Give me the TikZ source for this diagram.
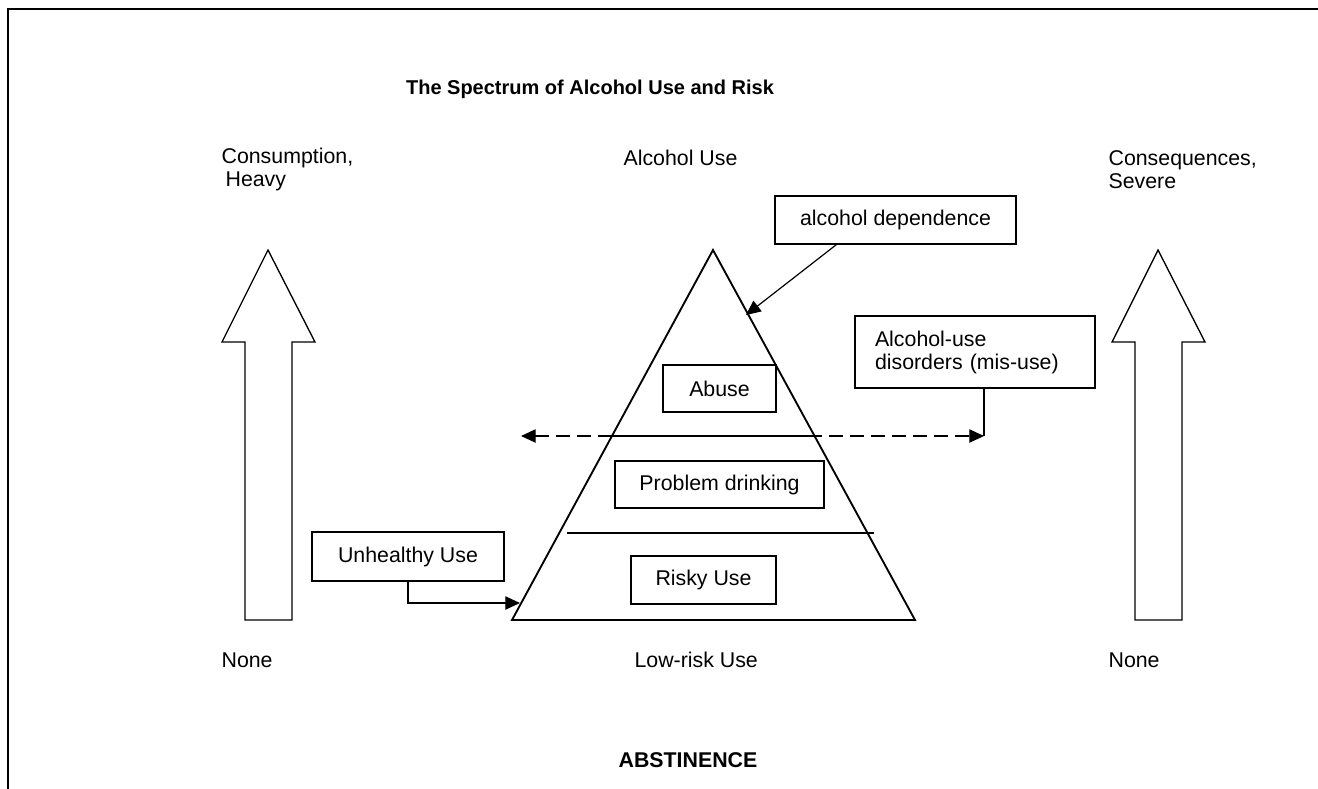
\documentclass[tikz,border=0pt]{standalone}
\usepackage{fontspec}
\setmainfont{Liberation Sans}
\usetikzlibrary{arrows.meta,calc}

\begin{document}
\begin{tikzpicture}[x=0.75pt,y=-0.75pt,>={Triangle[length=11pt,width=10pt]},line width=0.9pt,font=\fontsize{16}{17.25}\selectfont]
 \tikzstyle{box}=[draw, rectangle, inner sep=0pt]
 \tikzstyle{lbl}=[inner sep=0pt, anchor=west]
 \useasboundingbox (0,0) rectangle (1318,789);
 % frame
 \draw[line width=1.8pt] (8,800) -- (8,9) -- (1330,9);
 \node[font=\fontsize{15}{18}\selectfont\bfseries] (title) at (590,89) {The Spectrum of Alcohol Use and Risk};
 % labels
 \node[lbl, align=left] (cons) at (221,169.5) {Consumption,\\\hspace*{3pt}Heavy};
 \node[lbl] (use) at (623,158) {Alcohol Use};
 \node[lbl, align=left] (conseq) at (1108,169.5) {Consequences,\\Severe};
 \node[lbl] (none1) at (221,660) {None};
 \node[lbl] (lowrisk) at (634,660) {Low-risk Use};
 \node[lbl] (none2) at (1108,660) {None};
 \node (abst) at (688,760) {\bfseries ABSTINENCE};
 % hollow arrows
 \foreach \c in {268,1158}
   \draw[line width=1pt] (\c,250) -- (\c+47,342) -- (\c+24,342) -- (\c+24,620)
     -- (\c-23,620) -- (\c-23,342) -- (\c-46,342) -- cycle;
 % pyramid
 \draw[line width=1.4pt] (713,250) -- (512,620) -- (915,620) -- cycle;
 \draw[line width=1.2pt] (612,436) -- (814,436);
 \draw[line width=1.2pt] (567,533) -- (874,533);
 % boxes
 \node[box, minimum width=180.75pt, minimum height=36pt] (dep) at (895.5,220) {alcohol dependence};
 \node[box, minimum width=84.75pt, minimum height=35.25pt] (abuse) at (719.5,388.5) {Abuse};
 \node[box, minimum width=156.75pt, minimum height=35.25pt] (problem) at (719.5,484.5) {Problem drinking};
 \node[box, minimum width=108.75pt, minimum height=36pt] (risky) at (703.5,580) {Risky Use};
 \node[box, minimum width=144pt, minimum height=36.75pt] (unhealthy) at (408,556.5) {Unhealthy Use};
 \node[box, align=left, text width=150pt, inner xsep=15pt, minimum height=54pt] (misuse) at (975,352) {Alcohol-use\\disorders (mis-use)};
 % connectors
 \coordinate (hit1) at (746,315);
 \coordinate (hit2) at (520,603);
 \coordinate (lend) at (521,436);
 \coordinate (rend) at (984,436);
 \draw[->] ($(dep.south west)+(62,0)$) -- (hit1);
 \draw[->] (unhealthy.south) |- (hit2);
 \draw[dash pattern=on 10.5pt off 5.25pt,<->] (lend) -- (rend);
 \draw (misuse.south -| rend) -- (rend);
\end{tikzpicture}
\end{document}
